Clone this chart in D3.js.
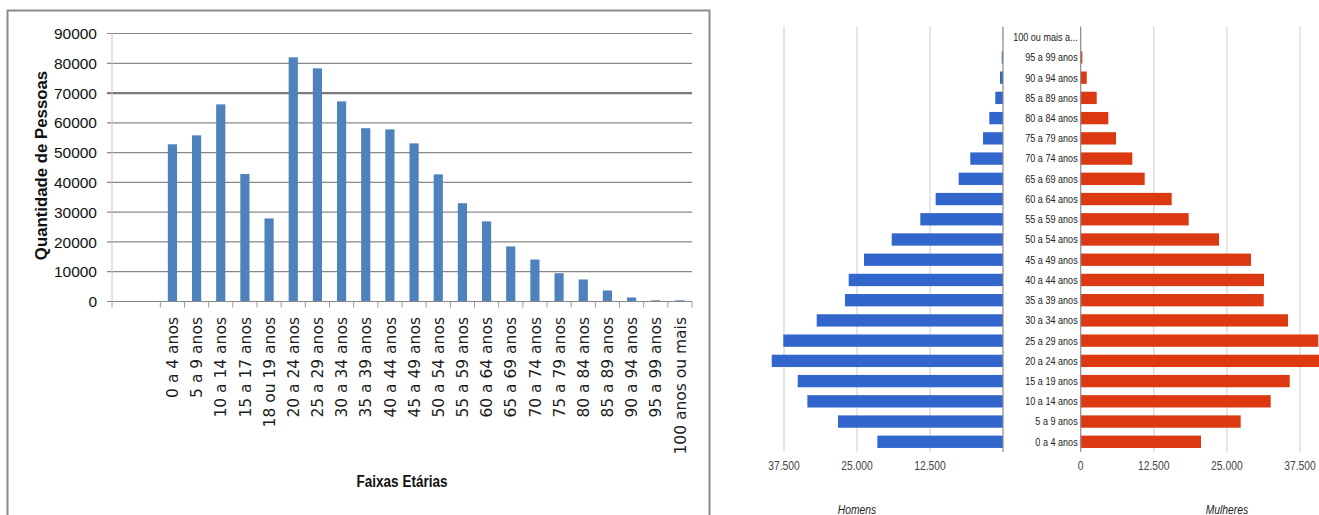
<!DOCTYPE html>
<html lang="pt-BR">
<head>
<meta charset="utf-8">
<title>População por faixa etária</title>
<script src="https://cdn.jsdelivr.net/npm/d3@7"></script>
<style>
  html, body { margin: 0; padding: 0; background: #fff; }
  svg { display: block; }
</style>
</head>
<body>
<svg id="chart" width="1319" height="515"></svg>
<script>
// ---- Gráfico de colunas: quantidade de pessoas por faixa etária ----
const faixas = [
  "0 a 4 anos", "5 a 9 anos", "10 a 14 anos", "15 a 17 anos", "18 ou 19 anos",
  "20 a 24 anos", "25 a 29 anos", "30 a 34 anos", "35 a 39 anos", "40 a 44 anos",
  "45 a 49 anos", "50 a 54 anos", "55 a 59 anos", "60 a 64 anos", "65 a 69 anos",
  "70 a 74 anos", "75 a 79 anos", "80 a 84 anos", "85 a 89 anos", "90 a 94 anos",
  "95 a 99 anos", "100 anos ou mais"
];
const pessoas = [
  52800, 55800, 66200, 42800, 27900,
  82000, 78300, 67200, 58200, 57800,
  53100, 42700, 33000, 26900, 18500,
  14100, 9500, 7400, 3700, 1350,
  400, 400
];
const ticksPessoas = [0, 10000, 20000, 30000, 40000, 50000, 60000, 70000, 80000, 90000];

// ---- Pirâmide etária: homens x mulheres ----
const faixasPiramide = [
  "0 a 4 anos", "5 a 9 anos", "10 a 14 anos", "15 a 19 anos", "20 a 24 anos",
  "25 a 29 anos", "30 a 34 anos", "35 a 39 anos", "40 a 44 anos", "45 a 49 anos",
  "50 a 54 anos", "55 a 59 anos", "60 a 64 anos", "65 a 69 anos", "70 a 74 anos",
  "75 a 79 anos", "80 a 84 anos", "85 a 89 anos", "90 a 94 anos", "95 a 99 anos",
  "100 ou mais anos"
];
const homens = [
  21520, 28250, 33500, 35150, 39600,
  37620, 31900, 27050, 26420, 23800,
  19060, 14160, 11530, 7590, 5600,
  3420, 2350, 1320, 510, 220,
  40
];
const mulheres = [
  20570, 27360, 32490, 35740, 41800,
  40630, 35450, 31300, 31340, 29120,
  23650, 18470, 15560, 10940, 8820,
  6040, 4720, 2740, 1030, 280,
  60
];
const ticksPiramide = [0, 12500, 25000, 37500];

const svg = d3.select("#chart");

// =====================================================================
// Gráfico de colunas
// =====================================================================
(function colunas() {
  const g = svg.append("g");

  // moldura da área do gráfico
  g.append("rect")
    .attr("x", 7.5).attr("y", 10.5)
    .attr("width", 702).attr("height", 520)
    .attr("fill", "none")
    .attr("stroke", "#8c8c8c")
    .attr("stroke-width", 2);

  // duas posições vazias antes da primeira faixa
  const vazios = ["__v1", "__v2"];
  const x = d3.scaleBand()
    .domain(vazios.concat(faixas))
    .range([112, 692])
    .paddingInner(0).paddingOuter(0);

  const y = d3.scaleLinear().domain([0, 90000]).range([301.5, 33.5]);

  // linhas de grade horizontais
  g.append("g").selectAll("line")
    .data(ticksPessoas.filter(d => d > 0))
    .join("line")
    .attr("x1", 107).attr("x2", 692)
    .attr("y1", d => y(d)).attr("y2", d => y(d))
    .attr("stroke", d => d === 70000 ? "#7a7a7a" : "#888")
    .attr("stroke-width", d => d === 70000 ? 2.2 : 1.2);

  // eixo vertical
  g.append("line")
    .attr("x1", 112).attr("x2", 112)
    .attr("y1", y(90000)).attr("y2", y(0))
    .attr("stroke", "#c8c8c8").attr("stroke-width", 1);

  // rótulos do eixo Y
  g.append("g").selectAll("text")
    .data(ticksPessoas)
    .join("text")
    .attr("x", 97).attr("y", d => y(d))
    .attr("dy", "0.36em")
    .attr("text-anchor", "end")
    .attr("font-family", "'Liberation Sans', Arial, sans-serif")
    .attr("font-size", 15.5)
    .attr("fill", "#111")
    .text(d => d3.format("d")(d));

  // barras
  const bw = x.bandwidth() * 0.38;
  g.append("g").selectAll("rect")
    .data(faixas.map((f, i) => ({ f, v: pessoas[i] })))
    .join("rect")
    .attr("x", d => x(d.f) + (x.bandwidth() - bw) / 2)
    .attr("y", d => y(d.v))
    .attr("width", bw)
    .attr("height", d => y(0) - y(d.v))
    .attr("fill", "#4f81bd");

  // eixo horizontal e marcas
  g.append("line")
    .attr("x1", 107).attr("x2", 692)
    .attr("y1", y(0)).attr("y2", y(0))
    .attr("stroke", "#888").attr("stroke-width", 1.2);

  const marcas = [x.range()[0]].concat(faixas.map(f => x(f))).concat([x.range()[1]]);
  g.append("g").selectAll("line")
    .data(marcas)
    .join("line")
    .attr("x1", d => d).attr("x2", d => d)
    .attr("y1", y(0)).attr("y2", y(0) + 6)
    .attr("stroke", "#9a9a9a").attr("stroke-width", 1);

  // rótulos das faixas (verticais)
  g.append("g").selectAll("text")
    .data(faixas)
    .join("text")
    .attr("transform", f => `translate(${x(f) + x.bandwidth() / 2},317) rotate(-90)`)
    .attr("dy", "0.36em")
    .attr("text-anchor", "end")
    .attr("font-family", "'DejaVu Sans', sans-serif")
    .attr("font-size", 15.5)
    .attr("fill", "#1c1c1c")
    .text(f => f);

  // título do eixo Y
  g.append("text")
    .attr("transform", "translate(46.5,165.5) rotate(-90)")
    .attr("text-anchor", "middle")
    .attr("font-family", "'Liberation Sans', Arial, sans-serif")
    .attr("font-weight", "bold")
    .attr("font-size", 16.8)
    .attr("fill", "#111")
    .text("Quantidade de Pessoas");

  // título do eixo X
  g.append("text")
    .attr("transform", "translate(402,486.5) scale(0.83,1)")
    .attr("text-anchor", "middle")
    .attr("font-family", "'Liberation Sans', Arial, sans-serif")
    .attr("font-weight", "bold")
    .attr("font-size", 16.3)
    .attr("fill", "#111")
    .text("Faixas Etárias");
})();

// =====================================================================
// Pirâmide etária
// =====================================================================
(function piramide() {
  const g = svg.append("g");
  const fmt = d3.formatLocale({ decimal: ",", thousands: ".", grouping: [3], currency: ["", ""] }).format(",");

  const y = d3.scaleBand()
    .domain(faixasPiramide.slice().reverse())
    .range([27, 452])
    .paddingInner(0.39).paddingOuter(0.2);

  const xH = d3.scaleLinear().domain([0, 37500]).range([1003, 784]);
  const xM = d3.scaleLinear().domain([0, 37500]).range([1080.7, 1300]);

  const topo = 26.5, base = 452;
  const fonte = "'Liberation Sans', Arial, sans-serif";

  // linhas de grade
  [xH, xM].forEach(sc => {
    g.append("g").selectAll("line")
      .data(ticksPiramide.filter(d => d > 0))
      .join("line")
      .attr("x1", d => sc(d)).attr("x2", d => sc(d))
      .attr("y1", topo).attr("y2", base)
      .attr("stroke", "#cccccc").attr("stroke-width", 1);
  });

  // barras – homens (à esquerda)
  g.append("g").selectAll("rect")
    .data(faixasPiramide.map((f, i) => ({ f, v: homens[i] })))
    .join("rect")
    .attr("x", d => xH(d.v))
    .attr("y", d => y(d.f))
    .attr("width", d => xH(0) - xH(d.v))
    .attr("height", y.bandwidth())
    .attr("fill", "#3366cc");

  // barras – mulheres (à direita)
  g.append("g").selectAll("rect")
    .data(faixasPiramide.map((f, i) => ({ f, v: mulheres[i] })))
    .join("rect")
    .attr("x", xM(0))
    .attr("y", d => y(d.f))
    .attr("width", d => xM(d.v) - xM(0))
    .attr("height", y.bandwidth())
    .attr("fill", "#dc3912");

  // linhas de base (zero)
  [xH, xM].forEach(sc => {
    g.append("line")
      .attr("x1", sc(0)).attr("x2", sc(0))
      .attr("y1", topo).attr("y2", base)
      .attr("stroke", "#8a8a8a").attr("stroke-width", 1.2);
  });

  // rótulos das faixas (centrais)
  const curto = s => s.length > 13 ? s.slice(0, 13) + "..." : s;
  g.append("g").selectAll("text")
    .data(faixasPiramide)
    .join("text")
    .attr("transform", f => `translate(1077.7,${y(f) + y.bandwidth() / 2}) scale(0.84,1)`)
    .attr("dy", "0.36em")
    .attr("text-anchor", "end")
    .attr("font-family", fonte)
    .attr("font-size", 10.8)
    .attr("fill", "#222")
    .text(f => curto(f));

  // rótulos do eixo – homens (sem o zero)
  g.append("g").selectAll("text")
    .data(ticksPiramide.filter(d => d > 0))
    .join("text")
    .attr("transform", d => `translate(${xH(d)},469.5) scale(0.86,1)`)
    .attr("text-anchor", "middle")
    .attr("font-family", fonte)
    .attr("font-size", 12)
    .attr("fill", "#444")
    .text(d => fmt(d));

  // rótulos do eixo – mulheres
  g.append("g").selectAll("text")
    .data(ticksPiramide)
    .join("text")
    .attr("transform", d => `translate(${xM(d)},469.5) scale(0.86,1)`)
    .attr("text-anchor", "middle")
    .attr("font-family", fonte)
    .attr("font-size", 12)
    .attr("fill", "#444")
    .text(d => fmt(d));

  // títulos dos eixos
  [["Homens", xH(25000)], ["Mulheres", xM(25000)]].forEach(([t, cx]) => {
    g.append("text")
      .attr("transform", `translate(${cx},513.5) scale(0.86,1)`)
      .attr("text-anchor", "middle")
      .attr("font-family", fonte)
      .attr("font-style", "italic")
      .attr("font-size", 12)
      .attr("fill", "#222")
      .text(t);
  });
})();
</script>
</body>
</html>
